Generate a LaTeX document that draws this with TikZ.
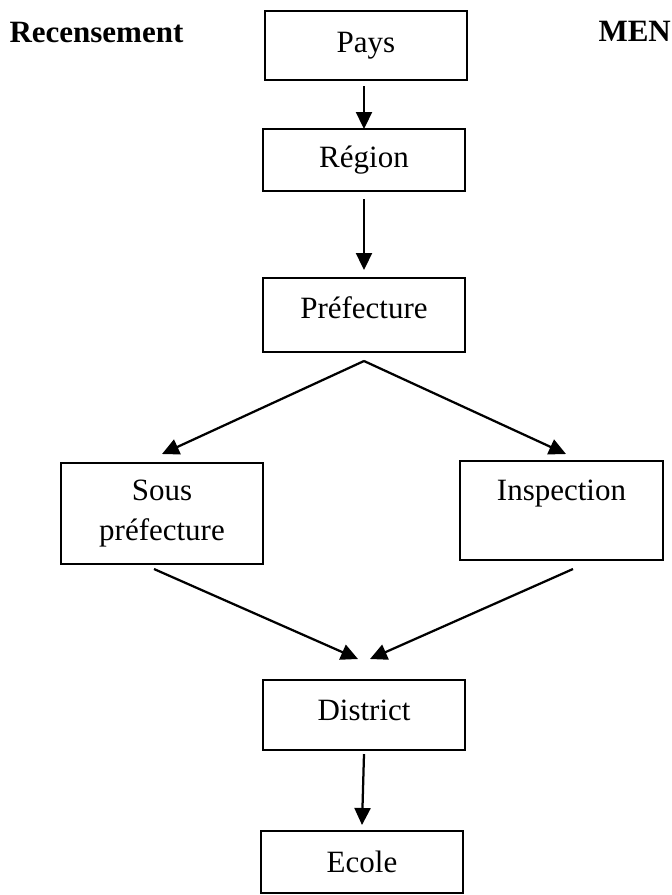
\documentclass[tikz,border=0pt]{standalone}
\usepackage{fontspec}
\setmainfont{Liberation Serif}
\usepackage{tikz}
\usetikzlibrary{arrows.meta,positioning,calc}

\begin{document}
\begin{tikzpicture}[x=0.4pt,y=0.4pt,
    box/.style={draw,line width=0.65pt,minimum width=80.8pt,inner sep=0pt,outer sep=0pt,align=center,font=\fontsize{12.4}{16}\selectfont},
    title/.style={inner sep=0pt,anchor=base west,font=\fontsize{12.4}{16}\selectfont\bfseries},
    arr/.style={-{Triangle[length=6.8pt,width=6.4pt]},line width=0.9pt}]
    \useasboundingbox (0,0) rectangle (672,-895);
    \node[title] (recens) at (9,-42) {Recensement};
    \node[title] (men) at (598,-41) {MEN};
    \node[box,minimum height=27.6pt] (pays) at (366,-45.5) {Pays};
    \node[box,minimum height=24.8pt,below=19.6pt of pays,xshift=-0.8pt] (reg) {Région};
    \node[box,minimum height=29.6pt,text height=8.7pt,text depth=5.7pt,below=34.8pt of reg] (pref) {Préfecture};
    \node[box,minimum height=40.4pt,below left=44.4pt and 0pt of pref] (sous) {Sous\\préfecture};
    \node[box,minimum height=39.6pt,minimum width=81.2pt,below right=43.6pt and -2pt of pref] (insp) {Inspection\\ \mbox{}};
    \node[box,minimum height=28pt,text height=8.7pt,text depth=4.1pt,below right=46.4pt and 0pt of sous] (dist) {District};
    \node[box,minimum height=24.8pt,below=32.4pt of dist,xshift=-0.8pt] (ecole) {Ecole};
    \draw[arr] ([yshift=-2.4pt]pays.south -| reg.north) -- (reg.north);
    \draw[arr] ([yshift=-3.2pt]reg.south) -- ([yshift=3.2pt]pref.north);
    \draw[arr] ([yshift=-3.6pt]pref.south) -- ([yshift=3.6pt]sous.north);
    \draw[arr] ([yshift=-3.6pt]pref.south) -- ([shift={(1.8pt,2.8pt)}]insp.north);
    \draw[arr] ([shift={(-3.2pt,-2pt)}]sous.south) -- ([shift={(-2.4pt,8.4pt)}]dist.north);
    \draw[arr] ([shift={(4.6pt,-3.6pt)}]insp.south) -- ([shift={(2.4pt,8.4pt)}]dist.north);
    \draw[arr] ([yshift=-1.6pt]dist.south) -- ([yshift=2.4pt]ecole.north);
  \end{tikzpicture}
\end{document}
